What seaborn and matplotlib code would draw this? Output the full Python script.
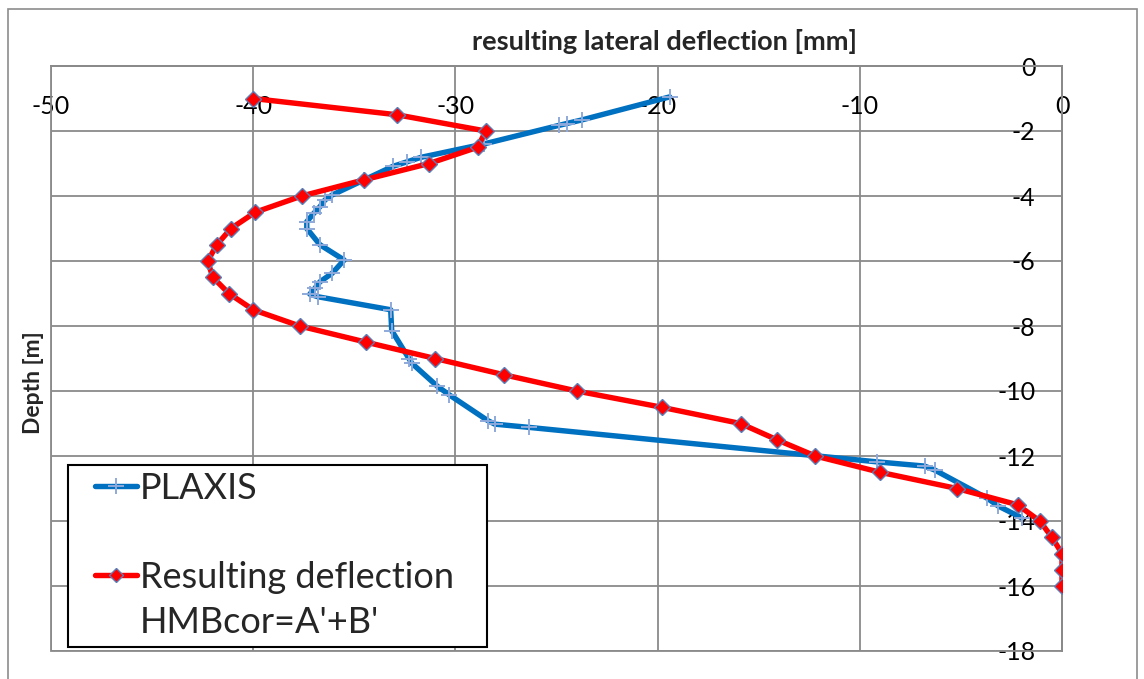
import matplotlib
matplotlib.use("Agg")
import matplotlib.pyplot as plt
from matplotlib.lines import Line2D
from matplotlib.patches import Rectangle
import seaborn as sns

# PLAXIS lateral deflection [mm] against depth [m]
plaxis_defl = [-19.4, -23.75, -24.5, -24.9, -28.6, -31.7, -32.4, -33.1, -34.5,
               -36.1, -36.45, -36.7, -37.0, -37.35, -37.35, -36.7, -35.5, -36.1,
               -36.7, -36.95, -37.2, -36.8, -33.2, -33.15, -32.3, -32.15, -30.9,
               -30.3, -28.4, -28.05, -26.35, -9.15, -6.8, -6.3, -3.7, -3.15, -2.0]
plaxis_depth = [-0.95, -1.66, -1.77, -1.83, -2.4, -2.81, -2.95, -3.09, -3.5,
                -3.97, -4.12, -4.33, -4.53, -4.79, -5.0, -5.5, -5.97, -6.38,
                -6.64, -6.84, -7.02, -7.1, -7.5, -8.14, -9.0, -9.15, -9.85,
                -10.12, -10.91, -11.02, -11.12, -12.18, -12.31, -12.43, -13.3,
                -13.54, -13.9]

# Resulting deflection HMBcor = A' + B'
result_depth = [-1.0, -1.5, -2.0, -2.5, -3.0, -3.5, -4.0, -4.5, -5.0, -5.5, -6.0,
                -6.5, -7.0, -7.5, -8.0, -8.5, -9.0, -9.5, -10.0, -10.5, -11.0,
                -11.5, -12.0, -12.5, -13.0, -13.5, -14.0, -14.5, -15.0, -15.5, -16.0]
result_defl = [-40.0, -32.9, -28.5, -28.9, -31.3, -34.5, -37.6, -39.9, -41.1, -41.8,
               -42.25, -42.0, -41.2, -40.0, -37.7, -34.4, -31.0, -27.6, -24.0, -19.8,
               -15.9, -14.1, -12.2, -9.0, -5.2, -2.2, -1.1, -0.5, 0.0, 0.0, 0.0]

x_ticks = [-50, -40, -30, -20, -10, 0]
y_ticks = [0, -2, -4, -6, -8, -10, -12, -14, -16, -18]

sns.set_style("white")
plt.rcParams["font.family"] = ["Lato", "DejaVu Sans"]

W, H = 1144, 679
fig = plt.figure(figsize=(W / 100, H / 100), dpi=100)
ax = fig.add_axes([51 / W, 28 / H, 1011 / W, 585 / H])

grid_c = "#8a8a8a"
blue = "#0070C0"
red = "#FF0000"
plus_c = "#8EA9DB"
edge_c = "#5B7DB8"

sns.lineplot(x=plaxis_defl, y=plaxis_depth, sort=False, estimator=None, ax=ax,
             color=blue, lw=3.9, marker="+", markersize=12, markeredgewidth=1.4,
             markeredgecolor=plus_c, zorder=3)
sns.lineplot(x=result_defl, y=result_depth, sort=False, estimator=None, ax=ax,
             color=red, lw=3.9, marker="D", markersize=8.5, markerfacecolor=red,
             markeredgecolor=edge_c, markeredgewidth=1.0, zorder=4)

ax.set_xlim(-50, 0)
ax.set_ylim(-18, 0)
ax.set_xticks(x_ticks)
ax.set_yticks(y_ticks)
ax.set_xticklabels([str(v) for v in x_ticks])
ax.set_yticklabels([str(v) for v in y_ticks])
ax.grid(True, color=grid_c, lw=1.3)
ax.set_axisbelow(True)

# axes cross at the origin: labels sit below the top edge and left of the right edge
ax.spines["left"].set_position(("data", 0))
ax.spines["bottom"].set_position(("data", 0))
for s in ax.spines.values():
    s.set_color(grid_c)
    s.set_linewidth(1.3)
ax.add_patch(Rectangle((0, 0), 1, 1, transform=ax.transAxes, fill=False,
                       ec=grid_c, lw=1.3, clip_on=False, zorder=2))
ax.tick_params(axis="x", length=0, pad=21, labelsize=18, colors="black")
ax.tick_params(axis="y", length=0, pad=19, labelsize=18, colors="black")
ax.set_xlabel("")
ax.set_ylabel("")

# chart frame
fig.patches.append(Rectangle((8 / W, -0.02), (1137 - 8) / W, 1 - 9 / H + 0.02,
                             transform=fig.transFigure, fill=False,
                             ec="#8c8c8c", lw=1.2))

fig.text(665 / W, 1 - 42 / H, "resulting lateral deflection [mm]", ha="center",
         va="center", fontsize=19.5, fontweight="bold")
fig.text(33 / W, 1 - 383 / H, "Depth [m]", ha="center", va="center",
         rotation=90, fontsize=16.5, fontweight="bold")

# legend: white box with black border, entries placed inside it
ax.add_patch(Rectangle((68 / W, 1 - 647 / H), 419 / W, 182 / H,
                       transform=fig.transFigure, facecolor="white",
                       edgecolor="black", lw=1.5, clip_on=False, zorder=9))
handles = [
    Line2D([], [], color=blue, lw=3.9, marker="+", markersize=12,
           markeredgewidth=1.4, markeredgecolor=plus_c),
    Line2D([], [], linestyle="none"),
    Line2D([], [], color=red, lw=3.9, marker="D", markersize=7.5,
           markerfacecolor=red, markeredgecolor=edge_c, markeredgewidth=1.0),
    Line2D([], [], linestyle="none"),
]
labels = ["PLAXIS", " ", "Resulting deflection", "HMBcor=A'+B'"]
leg = ax.legend(handles, labels, loc="upper left",
                bbox_to_anchor=(95 / W, 1 - 472 / H),
                bbox_transform=fig.transFigure, borderaxespad=0, borderpad=0,
                fontsize=26, handlelength=1.17, handletextpad=0.08,
                labelspacing=0.32, frameon=False)
leg.set_zorder(10)

fig.savefig("out.png", dpi=100)
